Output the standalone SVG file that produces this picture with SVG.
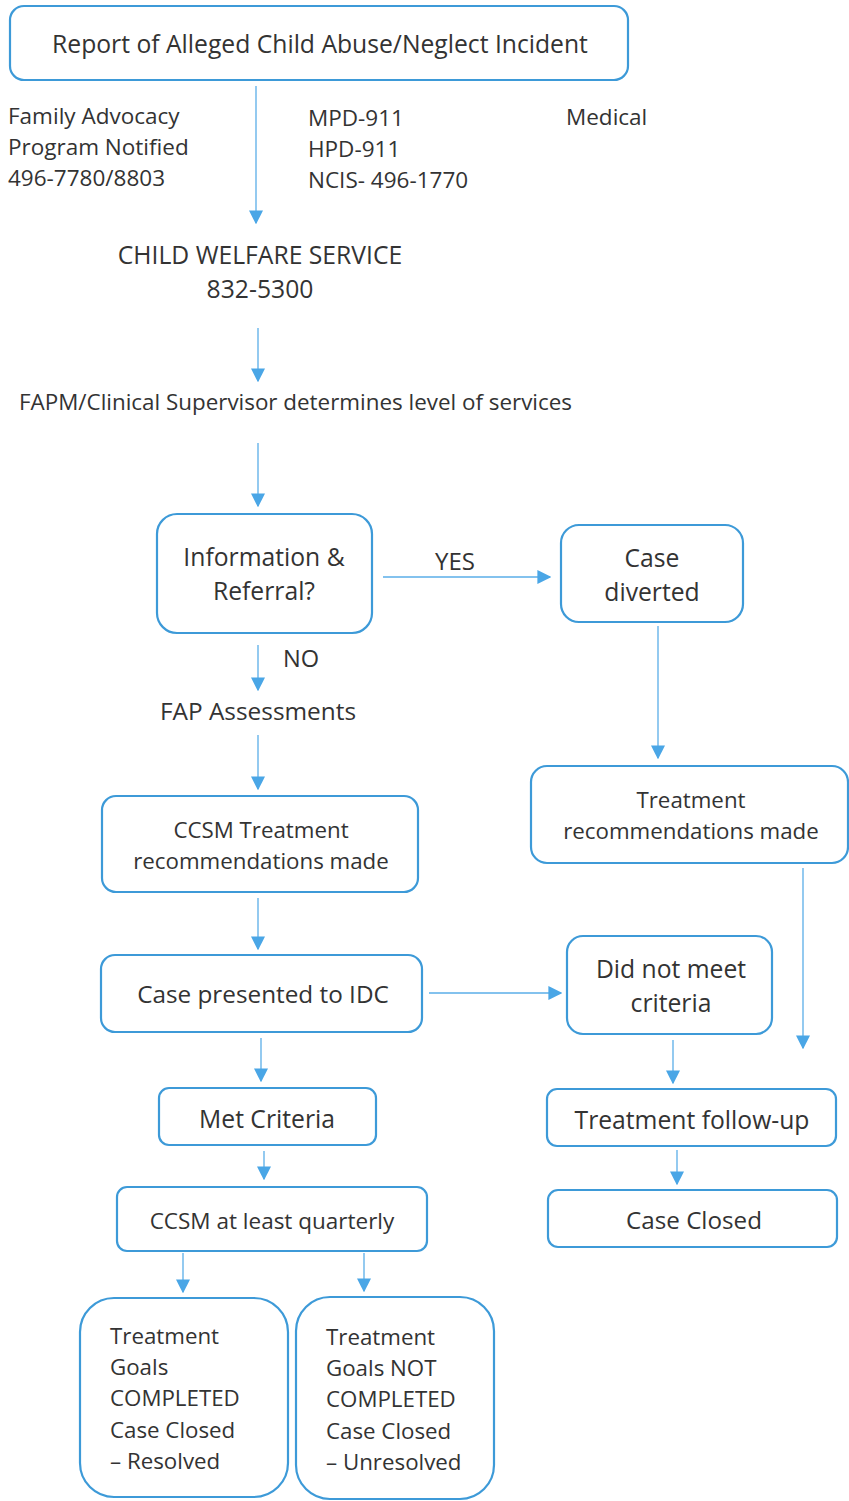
<svg xmlns="http://www.w3.org/2000/svg" width="849" height="1501" viewBox="0 0 849 1501">
  <defs>
    <marker id="arrow" viewBox="0 0 10 10" refX="9" refY="5" markerWidth="14" markerHeight="14" markerUnits="userSpaceOnUse" orient="auto">
      <path d="M0,0 L10,5 L0,10 Z" fill="#4aa6e6"/>
    </marker>
    <style>
      .box { fill: #ffffff; stroke: #3d9ad8; stroke-width: 2.2; }
      .t { font-family: "Open Sans", "Liberation Sans", sans-serif; fill: #333333; font-size: 22.5px; }
      .c { text-anchor: middle; }
      .big { font-size: 24.7px; }
      .mid { font-size: 22.3px; }
      .con { stroke: #5aaee8; stroke-width: 1.3; fill: none; marker-end: url(#arrow); }
    </style>
  </defs>
  <rect width="849" height="1501" fill="#ffffff"/>

  <!-- connectors -->
  <g id="connectors">
    <line class="con" x1="256" y1="86" x2="256" y2="223"/>
    <line class="con" x1="258" y1="328" x2="258" y2="381"/>
    <line class="con" x1="258" y1="443" x2="258" y2="506"/>
    <line class="con" x1="383" y1="577" x2="550" y2="577"/>
    <line class="con" x1="258" y1="645" x2="258" y2="690"/>
    <line class="con" x1="658" y1="626" x2="658" y2="758"/>
    <line class="con" x1="258" y1="735" x2="258" y2="789"/>
    <line class="con" x1="258" y1="898" x2="258" y2="949"/>
    <line class="con" x1="803" y1="868" x2="803" y2="1048"/>
    <line class="con" x1="429" y1="993" x2="561" y2="993"/>
    <line class="con" x1="261" y1="1038" x2="261" y2="1081"/>
    <line class="con" x1="673" y1="1040" x2="673" y2="1083"/>
    <line class="con" x1="264" y1="1151" x2="264" y2="1179"/>
    <line class="con" x1="677" y1="1150" x2="677" y2="1184"/>
    <line class="con" x1="183" y1="1253" x2="183" y2="1292"/>
    <line class="con" x1="364" y1="1253" x2="364" y2="1291"/>
  </g>

  <!-- free labels -->
  <g id="labels">
    <text class="t" x="8" y="124">Family Advocacy</text>
    <text class="t" x="8" y="155">Program Notified</text>
    <text class="t" x="8" y="186">496-7780/8803</text>
    <text class="t" x="308" y="126">MPD-911</text>
    <text class="t" x="308" y="157">HPD-911</text>
    <text class="t" x="308" y="188">NCIS- 496-1770</text>
    <text class="t" x="566" y="125">Medical</text>
    <text class="t c big" x="260" y="264">CHILD WELFARE SERVICE</text>
    <text class="t c big" x="260" y="298">832-5300</text>
    <text class="t" x="19" y="410" style="font-size:22.4px">FAPM/Clinical Supervisor determines level of services</text>
    <text class="t" x="435" y="570" style="font-size:24px">YES</text>
    <text class="t" x="283" y="667" style="font-size:23.6px">NO</text>
    <text class="t c" x="258" y="720" style="font-size:24.4px">FAP Assessments</text>
  </g>

  <g id="report">
    <rect class="box" x="10" y="6" width="618" height="74" rx="14"/>
    <text class="t c big" x="320" y="53">Report of Alleged Child Abuse/Neglect Incident</text>
  </g>

  <g id="info-referral">
    <rect class="box" x="157" y="514" width="215" height="119" rx="20"/>
    <text class="t c big" x="264" y="566">Information &amp;</text>
    <text class="t c big" x="264" y="600">Referral?</text>
  </g>

  <g id="case-diverted">
    <rect class="box" x="561" y="525" width="182" height="97" rx="18"/>
    <text class="t c big" x="652" y="567">Case</text>
    <text class="t c big" x="652" y="601">diverted</text>
  </g>

  <g id="ccsm-recs">
    <rect class="box" x="102" y="796" width="316" height="96" rx="14"/>
    <text class="t c mid" x="261" y="838">CCSM Treatment</text>
    <text class="t c mid" x="261" y="869">recommendations made</text>
  </g>

  <g id="treatment-recs">
    <rect class="box" x="531" y="766" width="317" height="97" rx="16"/>
    <text class="t c mid" x="691" y="808">Treatment</text>
    <text class="t c mid" x="691" y="839">recommendations made</text>
  </g>

  <g id="idc">
    <rect class="box" x="101" y="955" width="321" height="77" rx="14"/>
    <text class="t c" x="263" y="1003" style="font-size:24.3px">Case presented to IDC</text>
  </g>

  <g id="not-met">
    <rect class="box" x="567" y="936" width="205" height="98" rx="16"/>
    <text class="t c big" x="671" y="978">Did not meet</text>
    <text class="t c big" x="671" y="1012">criteria</text>
  </g>

  <g id="met">
    <rect class="box" x="159" y="1088" width="217" height="57" rx="10"/>
    <text class="t c big" x="267" y="1128">Met Criteria</text>
  </g>

  <g id="follow-up">
    <rect class="box" x="547" y="1089" width="289" height="57" rx="10"/>
    <text class="t c big" x="692" y="1129">Treatment follow-up</text>
  </g>

  <g id="quarterly">
    <rect class="box" x="117" y="1187" width="310" height="64" rx="10"/>
    <text class="t c" x="272" y="1229">CCSM at least quarterly</text>
  </g>

  <g id="case-closed">
    <rect class="box" x="548" y="1190" width="289" height="57" rx="10"/>
    <text class="t c" x="694" y="1229" style="font-size:24.2px">Case Closed</text>
  </g>

  <g id="resolved">
    <rect class="box" x="80" y="1298" width="208" height="199" rx="34"/>
    <text class="t mid" x="110" y="1344">Treatment</text>
    <text class="t mid" x="110" y="1375">Goals</text>
    <text class="t mid" x="110" y="1406">COMPLETED</text>
    <text class="t mid" x="110" y="1438">Case Closed</text>
    <text class="t mid" x="110" y="1469">– Resolved</text>
  </g>

  <g id="unresolved">
    <rect class="box" x="296" y="1297" width="198" height="202" rx="34"/>
    <text class="t mid" x="326" y="1345">Treatment</text>
    <text class="t mid" x="326" y="1376">Goals NOT</text>
    <text class="t mid" x="326" y="1407">COMPLETED</text>
    <text class="t mid" x="326" y="1439">Case Closed</text>
    <text class="t mid" x="326" y="1470">– Unresolved</text>
  </g>
</svg>
